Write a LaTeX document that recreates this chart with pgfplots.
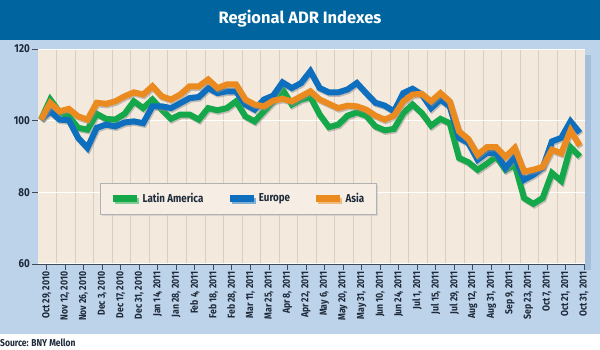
\documentclass[border=0pt]{standalone}
\usepackage{pgfplots}
\pgfplotsset{compat=1.18}
\usepackage{pgfplotstable}
\usepackage{fontspec}
\setmainfont{Fira Sans}[FakeStretch=0.85]
\newfontfamily\titlefont{Fira Sans}
\usetikzlibrary{shadows,calc}
\pgfdeclarelayer{bg}
\pgfsetlayers{bg,main}
\definecolor{band}{HTML}{00659E}
\definecolor{panel}{HTML}{BDD3E9}
\definecolor{shadowblue}{HTML}{A3BFDC}
\definecolor{beige}{HTML}{F3E9DC}
\definecolor{legbeige}{HTML}{F6EEE4}
\definecolor{vgrid}{HTML}{DACEC0}
\definecolor{cLA}{HTML}{14A84B}
\definecolor{cEU}{HTML}{0F6FBF}
\definecolor{cAS}{HTML}{EA8A1F}
\definecolor{txt}{HTML}{1E2A3A}

\pgfplotstableread{
i la eu as
0 100.3 100.3 100.3
1 105.9 102.6 105.0
2 102.4 100.3 102.6
3 101.2 100.1 103.3
4 98.0 95.2 101.2
5 97.5 92.4 100.3
6 101.9 98.0 105.0
7 100.5 98.9 104.7
8 100.3 98.4 105.4
9 101.9 99.5 106.8
10 105.4 99.8 107.9
11 103.5 99.3 107.3
12 105.9 104.0 109.6
13 103.1 104.0 106.8
14 100.5 103.5 105.9
15 101.7 104.9 107.3
16 101.7 106.3 109.6
17 100.3 106.6 109.6
18 103.5 109.1 111.5
19 102.9 107.7 109.1
20 103.5 108.2 110.1
21 105.4 108.2 110.1
22 101.2 104.5 105.9
23 99.8 103.1 104.5
24 102.6 105.9 104.0
25 105.4 107.0 105.6
26 108.7 110.7 106.1
27 104.5 109.1 105.4
28 105.9 110.5 106.8
29 106.6 113.8 108.2
30 101.7 109.1 105.9
31 98.2 107.9 104.7
32 98.9 107.9 103.5
33 101.4 108.7 104.2
34 102.3 110.5 104.0
35 101.4 107.7 103.1
36 98.4 105.0 101.4
37 97.3 104.2 100.3
38 97.7 102.6 101.4
39 102.1 107.7 105.4
40 104.5 108.9 107.3
41 102.1 107.3 107.5
42 98.6 103.5 105.4
43 100.5 105.9 107.7
44 99.3 104.0 105.4
45 89.6 95.2 97.0
46 88.4 93.8 94.9
47 86.3 89.1 90.5
48 88.0 91.0 92.6
49 90.0 91.0 92.6
50 86.3 86.8 89.9
51 87.7 90.0 92.4
52 78.4 83.5 85.8
53 76.8 84.9 86.3
54 78.4 86.8 87.1
55 85.4 94.2 91.9
56 83.2 95.2 90.9
57 92.6 99.8 97.3
58 90.0 96.6 93.0
}\data

\begin{document}
\begin{tikzpicture}[x=1pt,y=1pt]
\begin{axis}[
  name=ax,
  scale only axis, width=547pt, height=215pt,
  xmin=-0.32, xmax=58.56, ymin=60, ymax=120,
  axis background/.style={fill=beige},
  axis x line*=bottom, axis y line*=left,
  axis line style={-},
  y axis line style={draw=none},
  x axis line style={draw=txt!85, line width=0.8pt},
  tick align=outside,
  major tick length=6pt,
  minor tick length=0pt,
  tick style={draw=txt!85, line width=0.8pt},
  ytick={60,80,100,120},
  xtick={0.6,2.595,...,58.5},
  minor xtick={1.7,3.695,...,57.7},
  xticklabels={{Oct 29, 2010},{Nov 12, 2010},{Nov 26, 2010},{Dec 3, 2010},{Dec 17, 2010},{Dec 31, 2010},{Jan 14, 2011},{Jan 28, 2011},{Feb 4, 2011},{Feb 18, 2011},{Feb 28, 2011},{Mar 11, 2011},{Mar 25, 2011},{Apr 8, 2011},{Apr 22, 2011},{May 6, 2011},{May 20, 2011},{May 31, 2011},{Jun 10, 2011},{Jun 24, 2011},{Jul 1, 2011},{Jul 15, 2011},{Jul 29, 2011},{Aug 12, 2011},{Aug 31, 2011},{Sep 9, 2011},{Sep 23, 2011},{Oct 7, 2011},{Oct 21, 2011},{Oct 31, 2011}},
  xticklabel style={rotate=90, anchor=east, font=\bfseries\fontsize{10.2}{11}\selectfont, text=txt, inner sep=1.5pt},
  yticklabel style={font=\bfseries\fontsize{11.5}{13}\selectfont, text=txt, inner sep=2pt},
  /pgf/number format/assume math mode=true,
  ymajorgrids, xminorgrids,
  major grid style={draw=white, line width=1pt},
  minor grid style={draw=vgrid, line width=1pt},
  every axis plot/.append style={line width=6pt},
  legend columns=3,
  legend style={at={(rel axis cs:0.113,0.377)}, anchor=north west,
    fill=legbeige, draw=gray!60, line width=0.6pt,
    drop shadow={shadow xshift=2pt, shadow yshift=-2pt, fill=gray!50},
    font=\bfseries\fontsize{11.5}{13}\selectfont, text=txt,
    inner xsep=10pt, inner ysep=8pt,
    /tikz/every even column/.append style={column sep=21pt}},
  legend image code/.code={\draw[#1, line width=6.5pt] (0pt,0pt) -- (24pt,0pt);},
]
\addplot[black!45, opacity=0.5, forget plot, transform canvas={xshift=1pt,yshift=-1.5pt}] table[x=i,y=la] {\data};
\addplot[cLA] table[x=i,y=la] {\data};
\addlegendentry{Latin America}
\addplot[black!45, opacity=0.5, forget plot, transform canvas={xshift=1pt,yshift=-1.5pt}] table[x=i,y=eu] {\data};
\addplot[cEU] table[x=i,y=eu] {\data};
\addlegendentry{Europe}
\addplot[black!45, opacity=0.5, forget plot, transform canvas={xshift=1pt,yshift=-1.5pt}] table[x=i,y=as] {\data};
\addplot[cAS] table[x=i,y=as] {\data};
\addlegendentry{Asia}
\coordinate (O) at (rel axis cs:0,0);
\end{axis}
\begin{pgfonlayer}{bg}
\fill[white] ($(O)+(-38,-86)$) rectangle ($(O)+(562,264)$);
\fill[panel] ($(O)+(-38,-70)$) rectangle ($(O)+(562,224)$);
\fill[band] ($(O)+(-38,224)$) rectangle ($(O)+(562,264)$);
\fill[shadowblue] ($(O)+(547,-6)$) rectangle ($(O)+(553,209)$);
\end{pgfonlayer}
\node[text=white, font=\titlefont\bfseries\fontsize{16.5}{19}\selectfont] at ($(O)+(262,245)$) {Regional ADR Indexes};
\node[anchor=base west, font=\bfseries\fontsize{10}{11}\selectfont, text=txt, inner sep=0pt] at ($(O)+(-38,-83)$) {Source: BNY Mellon};
\end{tikzpicture}
\end{document}
